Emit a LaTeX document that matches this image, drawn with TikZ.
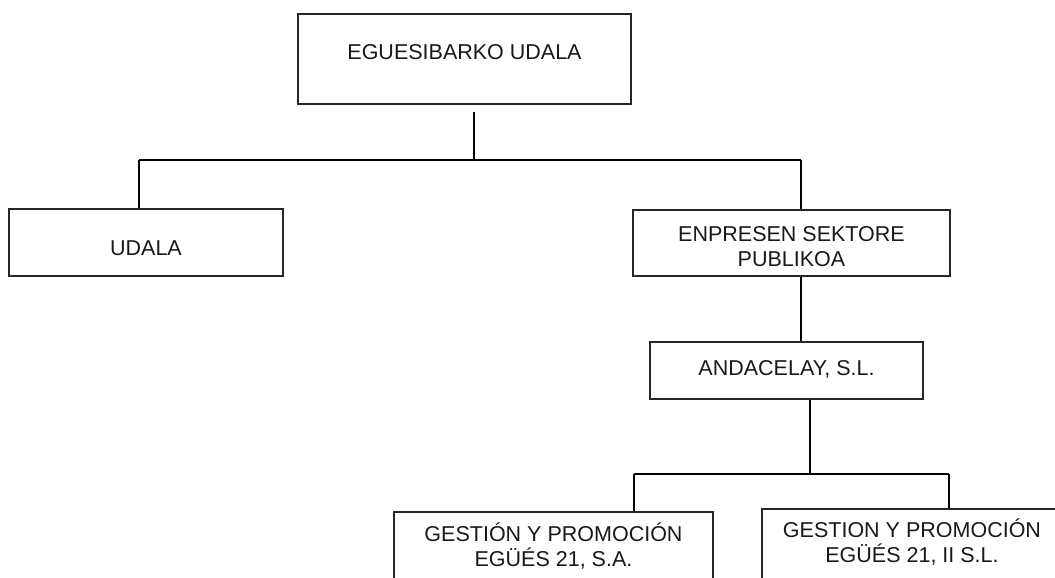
\documentclass[tikz,border=0pt]{standalone}
\usepackage{fontspec}
\setmainfont{Liberation Sans}
\begin{document}
\begin{tikzpicture}[x=1pt,y=-1pt,
  box/.style={draw=black!85, line width=1.3pt, inner sep=0pt},
  lbl/.style={font=\fontsize{21.5}{25}\selectfont, align=center, inner sep=0pt, text=black!90},
  conn/.style={draw=black, line width=1.2pt},
  stem/.style={draw=black, line width=2.2pt}]
\useasboundingbox (0,0) rectangle (1055,578);
\clip (0,0) rectangle (1055,578);
\fill[white] (0,0) rectangle (1055,578);

\node[box, minimum width=333pt, minimum height=90pt,
      label={[lbl,yshift=6.8pt]center:EGUESIBARKO UDALA}] (top) at (464.5,59) {};
\node[box, minimum width=274pt, minimum height=67pt,
      label={[lbl,yshift=-6pt]center:UDALA}] (udala) at (146,242.5) {};
\node[box, minimum width=317pt, minimum height=66pt,
      label={[lbl,yshift=-3.5pt]center:ENPRESEN SEKTORE\\PUBLIKOA}] (enp) at (791.5,243) {};
\node[box, minimum width=273pt, minimum height=57pt,
      label={[lbl,yshift=1.5pt]center:ANDACELAY, S.L.}] (andac) at (786.5,370.5) {};
\node[box, minimum width=319pt, minimum height=71pt,
      label={[lbl,yshift=1pt]center:GESTIÓN Y PROMOCIÓN\\EGÜÉS 21, S.A.}] (g1) at (553.5,547.5) {};
\node[box, minimum width=300pt, minimum height=76pt,
      label={[lbl,yshift=5pt]center:GESTION Y PROMOCIÓN\\EGÜÉS 21, II S.L.}] (g2) at (912,547) {};

\coordinate (j0) at (474,160);
\coordinate (jl) at (139,160);
\coordinate (jr) at (801,160);
\coordinate (k0) at (810,474);
\coordinate (kl) at (634,474);
\coordinate (kr) at (949,474);

\draw[stem] ([yshift=-7pt]top.south -| j0) -- (j0);
\draw[conn] (jl) -- (jr);
\draw[conn] (jl) -- (udala.north -| jl);
\draw[conn] (jr) -- (enp.north -| jr);
\draw[conn] (enp.south -| jr) -- (andac.north -| jr);
\draw[stem] (andac.south -| k0) -- ([yshift=1pt]k0);
\draw[conn] (kl) -- (kr);
\draw[conn] (kl) -- (g1.north -| kl);
\draw[conn] (kr) -- (g2.north -| kr);
\end{tikzpicture}
\end{document}
